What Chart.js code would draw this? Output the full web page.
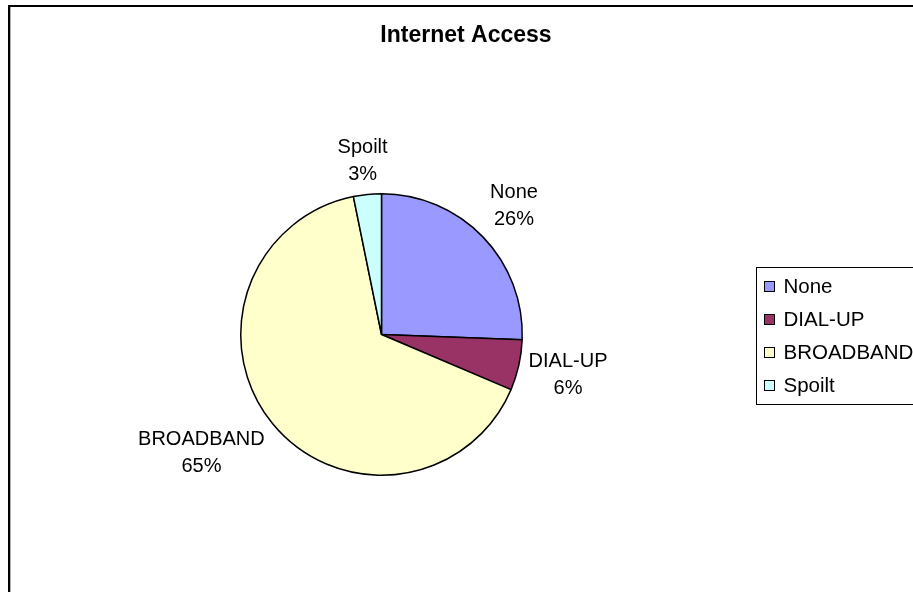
<!DOCTYPE html>
<html lang="en">
<head>
  <meta charset="UTF-8" />
  <title>Internet Access</title>
  <script src="https://cdn.jsdelivr.net/npm/chart.js"></script>
  <style>
    body {
      margin: 0;
      background: #ffffff;
      font-family: "Liberation Sans", Arial, sans-serif;
    }
    #chartBox {
      width: 913px;
      height: 592px;
    }
    canvas {
      display: block;
    }
  </style>
</head>
<body>
  <div id="chartBox">
    <canvas id="pieChart" width="913" height="592"></canvas>
  </div>

<script>
  const chartTitle = 'Internet Access';
  const categories = ['None', 'DIAL-UP', 'BROADBAND', 'Spoilt'];
  const shares = [25.6, 5.8, 65.4, 3.2];
  const sliceColors = ['#9999FF', '#993366', '#FFFFCC', '#CCFFFF'];

  const FONT = '"Liberation Sans", Arial, sans-serif';

  function percentText(i) {
    const total = shares.reduce((a, b) => a + b, 0);
    return Math.round(shares[i] / total * 100) + '%';
  }

  const clamp = v => Math.max(-1, Math.min(1, v));

  // frame, title, data labels and legend, drawn the old Excel way
  const excelLook = {
    id: 'excelLook',
    beforeDraw(chart) {
      const ctx = chart.ctx;
      ctx.save();
      ctx.fillStyle = '#ffffff';
      ctx.fillRect(0, 0, chart.width, chart.height);
      ctx.strokeStyle = '#000000';
      ctx.lineWidth = 2;
      ctx.beginPath();
      ctx.moveTo(9, chart.height + 5);
      ctx.lineTo(9, 6);
      ctx.lineTo(chart.width + 5, 6);
      ctx.stroke();
      ctx.strokeStyle = '#b0b0b0';
      ctx.lineWidth = 1;
      ctx.beginPath();
      ctx.moveTo(10.5, chart.height);
      ctx.lineTo(10.5, 7);
      ctx.stroke();
      ctx.restore();
    },
    afterDraw(chart) {
      const ctx = chart.ctx;
      ctx.save();

      // title
      ctx.fillStyle = '#000000';
      ctx.font = 'bold 23px ' + FONT;
      ctx.textAlign = 'center';
      ctx.textBaseline = 'middle';
      ctx.fillText(chartTitle, 466, 36);

      // data labels outside each slice, box corner pushed off the rim
      const lineH = 27;
      const gap = 10;
      ctx.font = '20px ' + FONT;
      chart.getDatasetMeta(0).data.forEach((arc, i) => {
        const mid = (arc.startAngle + arc.endAngle) / 2;
        const ux = Math.cos(mid);
        const uy = Math.sin(mid);
        const lines = [categories[i], percentText(i)];
        const w = Math.max(...lines.map(t => ctx.measureText(t).width));
        const h = lineH * 2 - 6;
        const ax = arc.x + ux * (arc.outerRadius + gap);
        const ay = arc.y + uy * (arc.outerRadius + gap);
        const cx = ax + clamp(ux * 1.5) * w / 2;
        const cy = ay + clamp(uy * 1.5) * h / 2;
        ctx.fillText(lines[0], cx, cy - lineH / 2);
        ctx.fillText(lines[1], cx, cy + lineH / 2);
      });

      // legend (runs off the right edge like the original)
      const lx = 756.5, ly = 267.5, rowH = 33;
      ctx.strokeStyle = '#000000';
      ctx.lineWidth = 1;
      ctx.strokeRect(lx, ly, 200, rowH * categories.length + 5);
      ctx.font = '20.5px ' + FONT;
      ctx.textAlign = 'left';
      categories.forEach((name, i) => {
        const y = ly + 19 + i * rowH;
        ctx.fillStyle = sliceColors[i];
        ctx.fillRect(lx + 8, y - 5, 10, 10);
        ctx.strokeRect(lx + 8, y - 5, 10, 10);
        ctx.fillStyle = '#000000';
        ctx.fillText(name, lx + 27, y + 1);
      });

      ctx.restore();
    }
  };

  const ctx = document.getElementById('pieChart').getContext('2d');
  new Chart(ctx, {
    type: 'pie',
    data: {
      labels: categories,
      datasets: [{
        data: shares,
        backgroundColor: sliceColors,
        borderColor: '#000000',
        borderWidth: 1.5
      }]
    },
    options: {
      responsive: false,
      animation: false,
      devicePixelRatio: 1,
      layout: {
        padding: { left: 240, right: 390, top: 193, bottom: 116 }
      },
      plugins: {
        legend: { display: false },
        title: { display: false },
        tooltip: { enabled: false }
      }
    },
    plugins: [excelLook]
  });
</script>
</body>
</html>
